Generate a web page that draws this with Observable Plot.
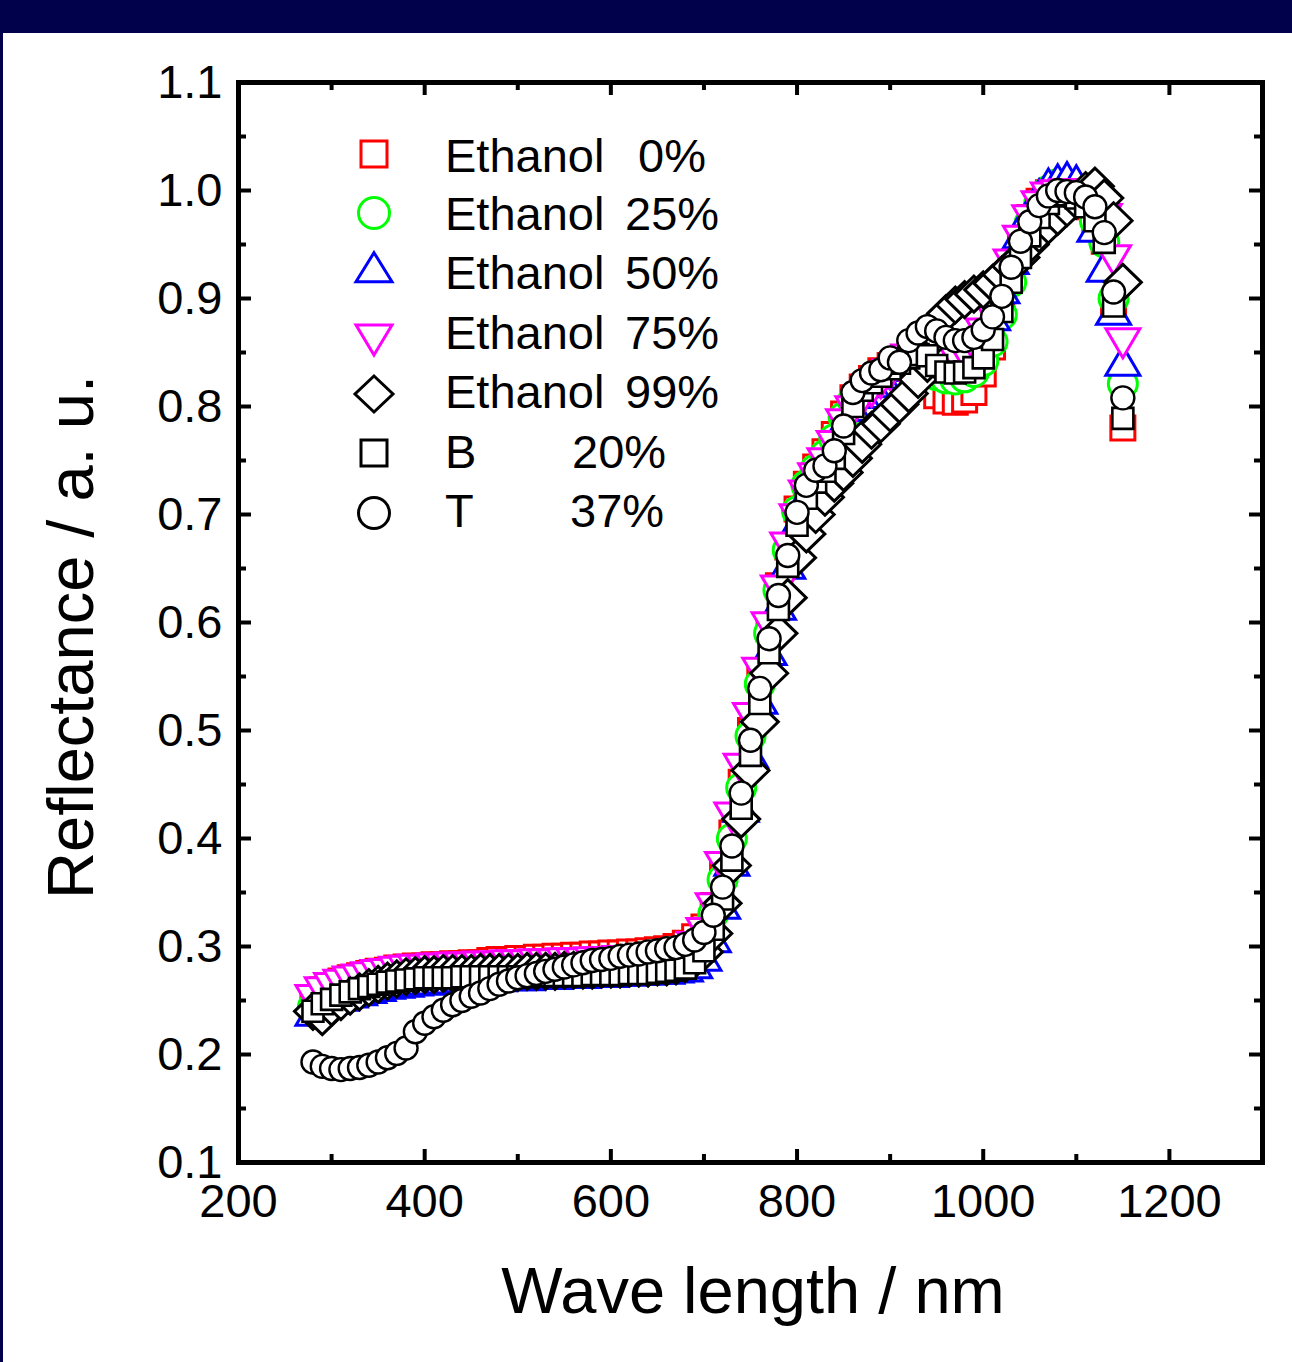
<!DOCTYPE html>
<html><head><meta charset="utf-8">
<script src="https://cdn.jsdelivr.net/npm/d3@7"></script>
<script src="https://cdn.jsdelivr.net/npm/@observablehq/plot@0.6"></script>
<style>
html,body{margin:0;padding:0;background:#fff;}
#wrap{position:relative;width:1292px;height:1362px;overflow:hidden;background:#fff;}
#chart{position:absolute;left:0;top:0;}
#topbar{position:absolute;left:0;top:0;width:1292px;height:33px;background:#00004b;}
#leftbar{position:absolute;left:0;top:0;width:3px;height:1362px;background:#00004b;}
</style></head><body>
<div id="wrap"><div id="chart"></div><div id="topbar"></div><div id="leftbar"></div></div>
<script>
// ---------------- data ----------------
const wavelength = [280,290,300,310,320,330,340,350,360,370,380,390,400,410,420,430,440,450,460,470,480,490,500,510,520,530,540,550,560,570,580,590,600,610,620,630,640,650,660,670,680,690,700,710,720,730,740,750,760,770,780,790,800,810,820,830,840,850,860,870,880,890,900,910,920,930,940,950,960,970,980,990,1000,1010,1020,1030,1040,1050,1060,1070,1080,1090,1100,1110,1120,1130,1140,1150];

const ethanol0 = [.252,.260,.264,.268,.271,.273,.275,.277,.278,
.280,.281,.282,.282,.283,.283,.284,.284,.285,.285,
.287,.288,.288,.289,.289,.290,.290,.291,.291,.292,
.292,.293,.293,.294,.294,.295,.295,.296,.297,.298,
.300,.303,.309,.318,.338,.368,.405,.452,.500,.548,
.594,.634,.670,.705,.728,.744,.758,.774,.793,.808,
.818,.826,.833,.838,.840,.838,.830,.820,.810,.805,
.804,.806,.813,.830,.855,.890,.925,.953,.975,.990,
.998,1.000,.998,.993,.985,.972,.953,.890,.780];

const ethanol25 = [.244,.249,.252,.255,.258,.260,.262,.264,.266,
.267,.268,.269,.270,.270,.271,.271,.272,.272,.273,
.273,.273,.274,.274,.275,.275,.276,.276,.277,.277,
.278,.278,.279,.279,.280,.280,.281,.281,.282,.283,
.285,.288,.295,.308,.330,.362,.400,.447,.495,.543,
.590,.630,.667,.703,.727,.742,.755,.770,.790,.805,
.815,.823,.830,.836,.840,.840,.838,.834,.829,.826,
.825,.827,.832,.842,.860,.885,.915,.945,.970,.988,
1.000,1.006,1.004,.998,.988,.972,.952,.900,.821];

const ethanol50 = [.236,.244,.247,.250,.253,.255,.257,.259,.261,
.262,.263,.264,.265,.265,.266,.266,.267,.267,.268,
.268,.268,.269,.269,.269,.270,.270,.270,.271,.271,
.271,.272,.272,.272,.273,.273,.274,.274,.275,.275,
.276,.277,.280,.287,.304,.335,.375,.425,.475,.525,
.570,.612,.650,.688,.714,.730,.745,.760,.780,.796,
.808,.818,.826,.833,.840,.845,.847,.846,.843,.841,
.841,.843,.850,.862,.880,.905,.932,.956,.976,.992,
1.002,1.006,1.008,1.005,.990,.962,.925,.885,.838];

const ethanol75 = [.255,.262,.266,.269,.272,.274,.276,.278,.279,
.281,.282,.283,.283,.284,.284,.285,.285,.285,.286,
.286,.286,.287,.287,.287,.288,.288,.288,.289,.289,
.289,.290,.290,.290,.291,.291,.292,.292,.293,.294,
.295,.298,.304,.317,.340,.378,.424,.469,.516,.558,
.600,.634,.674,.700,.722,.738,.752,.768,.788,.800,
.810,.818,.826,.834,.842,.848,.851,.852,.850,.848,
.849,.852,.860,.872,.888,.910,.936,.958,.977,.990,
.998,1.000,1.001,1.001,.999,.992,.978,.940,.863];

const ethanol99 = [.240,.235,.244,.249,.254,.258,.262,.265,.268,
.270,.272,.273,.274,.274,.275,.275,.275,.275,.276,
.276,.276,.276,.276,.277,.277,.277,.277,.278,.278,
.278,.278,.279,.279,.279,.280,.280,.280,.281,.281,
.282,.284,.288,.295,.312,.340,.375,.418,.463,.508,
.553,.590,.623,.660,.682,.700,.716,.729,.739,.752,
.765,.778,.784,.794,.802,.812,.825,.840,.866,.886,
.894,.899,.904,.908,.914,.922,.930,.938,.950,.960,
.968,.976,.984,.991,1.000,1.004,.993,.972,.915];

const sampleB20 = [.240,.247,.251,.255,.258,.261,.263,.265,.267,
.268,.269,.270,.271,.271,.271,.271,.272,.272,.272,
.272,.272,.272,.272,.272,.273,.273,.273,.273,.273,
.273,.274,.274,.274,.274,.275,.275,.275,.276,.277,
.278,.280,.285,.296,.316,.344,.380,.428,.477,.525,
.572,.612,.652,.690,.715,.730,.740,.752,.775,.800,
.815,.822,.828,.835,.840,.845,.848,.847,.838,.832,
.831,.832,.836,.845,.862,.888,.915,.938,.958,.975,
.988,.995,.996,.993,.985,.972,.952,.893,.789];

const sampleT37 = [.193,.189,.187,.186,.187,.188,.190,.193,.197,
.201,.206,.221,.229,.235,.241,.246,.250,.254,.257,
.261,.265,.268,.271,.273,.275,.277,.279,.281,.283,
.285,.287,.288,.289,.291,.292,.293,.295,.296,.298,
.299,.302,.306,.313,.329,.355,.393,.442,.491,.539,
.585,.625,.662,.702,.727,.741,.745,.759,.782,.813,
.824,.831,.834,.845,.841,.861,.868,.874,.870,.864,
.861,.861,.864,.871,.883,.902,.929,.953,.971,.986,
.995,1.000,.999,.998,.994,.985,.961,.906,.808];

const legendLabels = ["Ethanol", "Ethanol", "Ethanol", "Ethanol", "Ethanol", "B", "T"];
const legendPercents = ["0%", "25%", "50%", "75%", "99%", "20%", "37%"];

const xLabelTicks = [200, 400, 600, 800, 1000, 1200];
const xMajorTicks = [400, 600, 800, 1000, 1200];
const xMinorTicks = [300, 500, 700, 900, 1100];
const yLabelTicks = [0.1, 0.2, 0.3, 0.4, 0.5, 0.6, 0.7, 0.8, 0.9, 1.0, 1.1];
const yMajorTicks = [0.2, 0.3, 0.4, 0.5, 0.6, 0.7, 0.8, 0.9, 1.0];
const yMinorTicks = [0.15, 0.25, 0.35, 0.45, 0.55, 0.65, 0.75, 0.85, 0.95, 1.05];

// ---------------- symbols ----------------
const sqSym = s => ({draw(c){ c.moveTo(-s/2,-s/2); c.lineTo(s/2,-s/2); c.lineTo(s/2,s/2); c.lineTo(-s/2,s/2); c.closePath(); }});
const ciSym = d => ({draw(c){ c.moveTo(d/2,0); c.arc(0,0,d/2,0,2*Math.PI); c.closePath(); }});
const upSym = (w,h) => ({draw(c){ c.moveTo(0,-2*h/3); c.lineTo(w/2,h/3); c.lineTo(-w/2,h/3); c.closePath(); }});
const dnSym = (w,h) => ({draw(c){ c.moveTo(0,2*h/3); c.lineTo(w/2,-h/3); c.lineTo(-w/2,-h/3); c.closePath(); }});
const diSym = (w,h) => ({draw(c){ c.moveTo(0,-h/2); c.lineTo(w/2,0); c.lineTo(0,h/2); c.lineTo(-w/2,0); c.closePath(); }});

const series = [
  {vals: ethanol0,  color: "#ff0000", sym: sqSym(24),    lsym: sqSym(26),    sw: 3},
  {vals: ethanol25, color: "#00ff00", sym: ciSym(29),    lsym: ciSym(31),    sw: 3},
  {vals: ethanol50, color: "#0000ff", sym: upSym(34,29), lsym: upSym(36,29), sw: 3},
  {vals: ethanol75, color: "#ff00ff", sym: dnSym(34,29), lsym: dnSym(36,30), sw: 3},
  {vals: ethanol99, color: "#000000", sym: diSym(37,36), lsym: diSym(38,36), sw: 3},
  {vals: sampleB20, color: "#000000", sym: sqSym(21),    lsym: sqSym(26),    sw: 2.6},
  {vals: sampleT37, color: "#000000", sym: ciSym(23),    lsym: ciSym(31),    sw: 2.4}
];

const W = 1292, H = 1362, mL = 238, mR = 30, mT = 82, mB = 200;
const plotH = H - mT - mB, plotW = W - mL - mR;
const majorLen = 13, minorLen = 8;
const font = "'Liberation Sans', Arial, Helvetica, sans-serif";

const dotMarks = series.map(s => Plot.dot(
  wavelength.map((x, i) => ({x, y: s.vals[i]})).filter(d => d.y != null),
  {x: "x", y: "y", symbol: s.sym, stroke: s.color, fill: "white", strokeWidth: s.sw}
));

const plot = Plot.plot({
  width: W, height: H,
  marginLeft: mL, marginRight: mR, marginTop: mT, marginBottom: mB,
  x: {domain: [200, 1300]},
  y: {domain: [0.1, 1.1]},
  style: {fontFamily: font, fontSize: "47px", background: "white", color: "black", overflow: "visible"},
  marks: [
    Plot.axisX(xLabelTicks, {tickSize: 0, tickPadding: 21, label: null, fontSize: 47, tickFormat: d => String(d)}),
    Plot.axisY(yLabelTicks, {tickSize: 0, tickPadding: 16, label: null, fontSize: 47, tickFormat: d3.format(".1f")}),
    ...dotMarks,
    Plot.tickX(xMajorTicks, {x: d => d, insetBottom: plotH - majorLen, stroke: "black", strokeWidth: 4}),
    Plot.tickX(xMajorTicks, {x: d => d, insetTop: plotH - majorLen, stroke: "black", strokeWidth: 4}),
    Plot.tickX(xMinorTicks, {x: d => d, insetBottom: plotH - minorLen, stroke: "black", strokeWidth: 4}),
    Plot.tickX(xMinorTicks, {x: d => d, insetTop: plotH - minorLen, stroke: "black", strokeWidth: 4}),
    Plot.tickY(yMajorTicks, {y: d => d, insetRight: plotW - majorLen, stroke: "black", strokeWidth: 4}),
    Plot.tickY(yMajorTicks, {y: d => d, insetLeft: plotW - majorLen, stroke: "black", strokeWidth: 4}),
    Plot.tickY(yMinorTicks, {y: d => d, insetRight: plotW - minorLen, stroke: "black", strokeWidth: 4}),
    Plot.tickY(yMinorTicks, {y: d => d, insetLeft: plotW - minorLen, stroke: "black", strokeWidth: 4}),
    Plot.frame({stroke: "black", strokeWidth: 5})
  ]
});

document.getElementById("chart").appendChild(plot);
const svg = d3.select(plot);

// axis titles
svg.append("text")
  .attr("x", 753).attr("y", 1313)
  .attr("text-anchor", "middle")
  .attr("font-family", font).attr("font-size", 65).attr("fill", "black")
  .text("Wave length / nm");
svg.append("text")
  .attr("transform", "translate(93,637) rotate(-90)")
  .attr("text-anchor", "middle")
  .attr("font-family", font).attr("font-size", 65).attr("fill", "black")
  .text("Reflectance / a. u.");

// legend
const legendSymX = 374, legendTextX = 445;
const legendBaselines = [172, 230, 289, 349, 408, 468, 527];
const legendSymY = [154, 213, 272, 335, 394, 453, 513];
const legendPctX = [638, 625, 625, 625, 625, 572, 570];
const lg = svg.append("g").attr("font-family", font).attr("font-size", 47).attr("fill", "black").attr("text-anchor", "start");
series.forEach((s, i) => {
  lg.append("path")
    .attr("d", d3.symbol().type(s.lsym)())
    .attr("transform", `translate(${legendSymX},${legendSymY[i]})`)
    .attr("fill", "white").attr("stroke", s.color).attr("stroke-width", 3);
  lg.append("text").attr("text-anchor", "start").attr("x", legendTextX).attr("y", legendBaselines[i]).text(legendLabels[i]);
  lg.append("text").attr("text-anchor", "start").attr("x", legendPctX[i]).attr("y", legendBaselines[i]).text(legendPercents[i]);
});
</script>
</body></html>
